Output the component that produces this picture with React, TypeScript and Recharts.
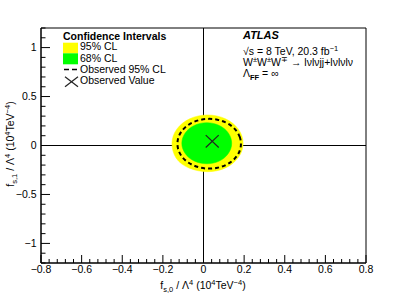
import React from 'react';
import {
  ComposedChart,
  Scatter,
  XAxis,
  YAxis,
  ReferenceLine,
  ReferenceArea,
} from 'recharts';

// contours (f_s0, f_s1)
const band95 = [
  { x: 0.197, y: 0.022 }, { x: 0.191, y: 0.098 }, { x: 0.173, y: 0.169 },
  { x: 0.145, y: 0.229 }, { x: 0.109, y: 0.276 }, { x: 0.066, y: 0.305 },
  { x: 0.02, y: 0.315 }, { x: -0.026, y: 0.305 }, { x: -0.069, y: 0.276 },
  { x: -0.105, y: 0.229 }, { x: -0.133, y: 0.169 }, { x: -0.151, y: 0.098 },
  { x: -0.157, y: 0.022 }, { x: -0.152, y: -0.055 }, { x: -0.137, y: -0.13 },
  { x: -0.11, y: -0.19 }, { x: -0.07, y: -0.234 }, { x: -0.026, y: -0.261 },
  { x: 0.02, y: -0.271 }, { x: 0.066, y: -0.261 }, { x: 0.109, y: -0.232 },
  { x: 0.145, y: -0.185 }, { x: 0.173, y: -0.125 }, { x: 0.191, y: -0.054 },
];

const band68 = [
  { x: 0.14, y: 0.023 }, { x: 0.136, y: 0.078 }, { x: 0.123, y: 0.129 },
  { x: 0.104, y: 0.173 }, { x: 0.078, y: 0.207 }, { x: 0.048, y: 0.228 },
  { x: 0.016, y: 0.235 }, { x: -0.016, y: 0.228 }, { x: -0.046, y: 0.207 },
  { x: -0.072, y: 0.173 }, { x: -0.091, y: 0.129 }, { x: -0.104, y: 0.078 },
  { x: -0.108, y: 0.023 }, { x: -0.104, y: -0.032 }, { x: -0.091, y: -0.083 },
  { x: -0.072, y: -0.127 }, { x: -0.046, y: -0.161 }, { x: -0.016, y: -0.182 },
  { x: 0.016, y: -0.189 }, { x: 0.048, y: -0.182 }, { x: 0.078, y: -0.161 },
  { x: 0.104, y: -0.127 }, { x: 0.123, y: -0.083 }, { x: 0.136, y: -0.032 },
];

const observed95 = [
  { x: 0.186, y: 0.018 }, { x: 0.181, y: 0.085 }, { x: 0.165, y: 0.147 },
  { x: 0.14, y: 0.2 }, { x: 0.107, y: 0.241 }, { x: 0.069, y: 0.266 },
  { x: 0.028, y: 0.275 }, { x: -0.013, y: 0.266 }, { x: -0.051, y: 0.241 },
  { x: -0.084, y: 0.2 }, { x: -0.109, y: 0.147 }, { x: -0.125, y: 0.085 },
  { x: -0.13, y: 0.018 }, { x: -0.125, y: -0.049 }, { x: -0.109, y: -0.111 },
  { x: -0.084, y: -0.164 }, { x: -0.051, y: -0.205 }, { x: -0.013, y: -0.23 },
  { x: 0.028, y: -0.239 }, { x: 0.069, y: -0.23 }, { x: 0.107, y: -0.205 },
  { x: 0.14, y: -0.164 }, { x: 0.165, y: -0.111 }, { x: 0.181, y: -0.049 },
];

const observedValue = [{ x: 0.043, y: 0.043 }];

const xTicks = [-0.8, -0.6, -0.4, -0.2, 0, 0.2, 0.4, 0.6, 0.8];
const xTickLabels = ['−0.8', '−0.6', '−0.4', '−0.2', '0', '0.2', '0.4', '0.6', '0.8'];
const yTicks = [-1, -0.5, 0, 0.5, 1];
const yTickLabels = ['−1', '−0.5', '0', '0.5', '1'];

const legendTitle = 'Confidence Intervals';
const legendLabels = ['95% CL', '68% CL', 'Observed 95% CL', 'Observed Value'];

// minor ticks: 4 between x majors, 0.1 steps on y
const xAllTicks = Array.from({ length: 41 }, (_, i) => Math.round((-0.8 + i * 0.04) * 100) / 100);
const yAllTicks = Array.from({ length: 25 }, (_, i) => Math.round((-1.2 + i * 0.1) * 10) / 10);

const FONT = '"Liberation Sans", Arial, Helvetica, sans-serif';

const findIdx = (list: number[], v: number) => list.findIndex((t) => Math.abs(t - v) < 1e-6);

const XTick = (props: any) => {
  const { x, y, payload } = props;
  const idx = findIdx(xTicks, payload.value);
  return (
    <g>
      <line x1={x} x2={x} y1={y} y2={y - (idx >= 0 ? 8 : 4)} stroke="#000" />
      {idx >= 0 && (
        <text x={x} y={y + 10} textAnchor="middle" fontSize={10.5} fill="#000" fontFamily={FONT}>
          {xTickLabels[idx]}
        </text>
      )}
    </g>
  );
};

const YTick = (props: any) => {
  const { x, y, payload } = props;
  const idx = findIdx(yTicks, payload.value);
  return (
    <g>
      <line x1={x} x2={x + (idx >= 0 ? 9 : 4.5)} y1={y} y2={y} stroke="#000" />
      {idx >= 0 && (
        <text x={x - 4.5} y={y + 3.8} textAnchor="end" fontSize={10.5} fill="#000" fontFamily={FONT}>
          {yTickLabels[idx]}
        </text>
      )}
    </g>
  );
};

const noDot = () => <g />;

const Cross = (props: any) => {
  const { cx, cy } = props;
  return (
    <g stroke="#222" strokeWidth={1.2}>
      <line x1={cx - 6.5} y1={cy - 6.2} x2={cx + 6.5} y2={cy + 6.2} />
      <line x1={cx - 6.5} y1={cy + 6.2} x2={cx + 6.5} y2={cy - 6.2} />
    </g>
  );
};

const App: React.FC = () => {
  return (
    <div style={{ position: 'absolute', left: 0, top: 0, background: '#fff', fontFamily: FONT }}>
      <ComposedChart width={407} height={293} margin={{ top: 28, right: 41, bottom: 0, left: 0 }}>
        <XAxis
          type="number"
          dataKey="x"
          domain={[-0.8, 0.8]}
          ticks={xAllTicks}
          interval={0}
          height={30}
          tickSize={0}
          tickMargin={0}
          tickLine={false}
          tick={<XTick />}
          axisLine={{ stroke: '#000' }}
          allowDataOverflow
        />
        <YAxis
          type="number"
          dataKey="y"
          domain={[-1.2, 1.2]}
          ticks={yAllTicks}
          interval={0}
          width={41}
          tickSize={0}
          tickMargin={0}
          tickLine={false}
          tick={<YTick />}
          axisLine={{ stroke: '#000' }}
          allowDataOverflow
        />
        <Scatter
          data={band95}
          fill="#ffff00"
          line={{ fill: '#ffff00', stroke: '#ffff00', strokeWidth: 0.5 }}
          lineJointType="basisClosed"
          shape={noDot}
          isAnimationActive={false}
        />
        <Scatter
          data={band68}
          fill="#00ff00"
          line={{ fill: '#00ff00', stroke: '#00ff00', strokeWidth: 0.5 }}
          lineJointType="basisClosed"
          shape={noDot}
          isAnimationActive={false}
        />
        <Scatter
          data={observed95}
          fill="#000"
          line={{ fill: 'none', stroke: '#000', strokeWidth: 2, strokeDasharray: '4 3' }}
          lineJointType="basisClosed"
          shape={noDot}
          isAnimationActive={false}
        />
        <ReferenceLine x={0} stroke="#000" strokeWidth={1} />
        <ReferenceLine y={0} stroke="#000" strokeWidth={1} />
        <Scatter data={observedValue} fill="#222" shape={<Cross />} isAnimationActive={false} />
        <ReferenceArea x1={-0.8} x2={0.8} y1={-1.2} y2={1.2} fill="none" stroke="#000" strokeWidth={1} fillOpacity={0} />

        {/* legend */}
        <g fontFamily={FONT} fill="#000">
          <text x={63} y={39.5} fontSize={10.5} fontWeight="bold">{legendTitle}</text>
          <rect x={63} y={42.7} width={15} height={10.6} fill="#ffff00" />
          <rect x={63} y={53.3} width={15} height={11} fill="#00ff00" />
          <line x1={64} x2={78} y1={69.5} y2={69.5} stroke="#000" strokeWidth={1.5} strokeDasharray="5 3" />
          <g stroke="#222" strokeWidth={1.2}>
            <line x1={65} y1={76.7} x2={78} y2={86.7} />
            <line x1={65} y1={86.7} x2={78} y2={76.7} />
          </g>
          <text x={80} y={50} fontSize={10.5}>{legendLabels[0]}</text>
          <text x={80} y={61.5} fontSize={10.5}>{legendLabels[1]}</text>
          <text x={80} y={73} fontSize={10.5}>{legendLabels[2]}</text>
          <text x={80} y={84} fontSize={10.5}>{legendLabels[3]}</text>
        </g>

        {/* ATLAS label */}
        <g fontFamily={FONT} fill="#000">
          <text x={243} y={39} fontSize={11} fontWeight="bold" fontStyle="italic">ATLAS</text>
          <text x={243} y={54.5} fontSize={10.5}>
            √s = 8 TeV, 20.3 fb<tspan fontSize={7.5} dy={-4}>−1</tspan>
          </text>
          <text x={243} y={66} fontSize={10.5}>
            W<tspan fontSize={7.5} dy={-4}>±</tspan>
            <tspan dy={4}>W</tspan>
            <tspan fontSize={7.5} dy={-4}>±</tspan>
            <tspan dy={4}>W</tspan>
            <tspan fontSize={7.5} dy={-4}>∓</tspan>
            <tspan dy={4}> → lνlνjj+lνlνlν</tspan>
          </text>
          <text x={243} y={77} fontSize={10.5}>
            Λ<tspan fontSize={7.5} fontWeight="bold" dy={2.5}>FF</tspan>
            <tspan dy={-2.5}> = ∞</tspan>
          </text>
        </g>

        {/* axis titles */}
        <text x={203} y={289} textAnchor="middle" fontSize={10.5} fontFamily={FONT} fill="#000">
          f<tspan fontSize={7.5} dy={2.5}>s,0</tspan>
          <tspan dy={-2.5}> / Λ</tspan>
          <tspan fontSize={7.5} dy={-4}>4</tspan>
          <tspan dy={4}> (10</tspan>
          <tspan fontSize={7.5} dy={-4}>4</tspan>
          <tspan dy={4}>TeV</tspan>
          <tspan fontSize={7.5} dy={-4}>−4</tspan>
          <tspan dy={4}>)</tspan>
        </text>
        <text
          x={-144}
          y={14}
          transform="rotate(-90)"
          textAnchor="middle"
          fontSize={10.5}
          fontFamily={FONT}
          fill="#000"
        >
          f<tspan fontSize={7.5} dy={2.5}>s,1</tspan>
          <tspan dy={-2.5}> / Λ</tspan>
          <tspan fontSize={7.5} dy={-4}>4</tspan>
          <tspan dy={4}> (10</tspan>
          <tspan fontSize={7.5} dy={-4}>4</tspan>
          <tspan dy={4}>TeV</tspan>
          <tspan fontSize={7.5} dy={-4}>−4</tspan>
          <tspan dy={4}>)</tspan>
        </text>
      </ComposedChart>
    </div>
  );
};

export default App;
